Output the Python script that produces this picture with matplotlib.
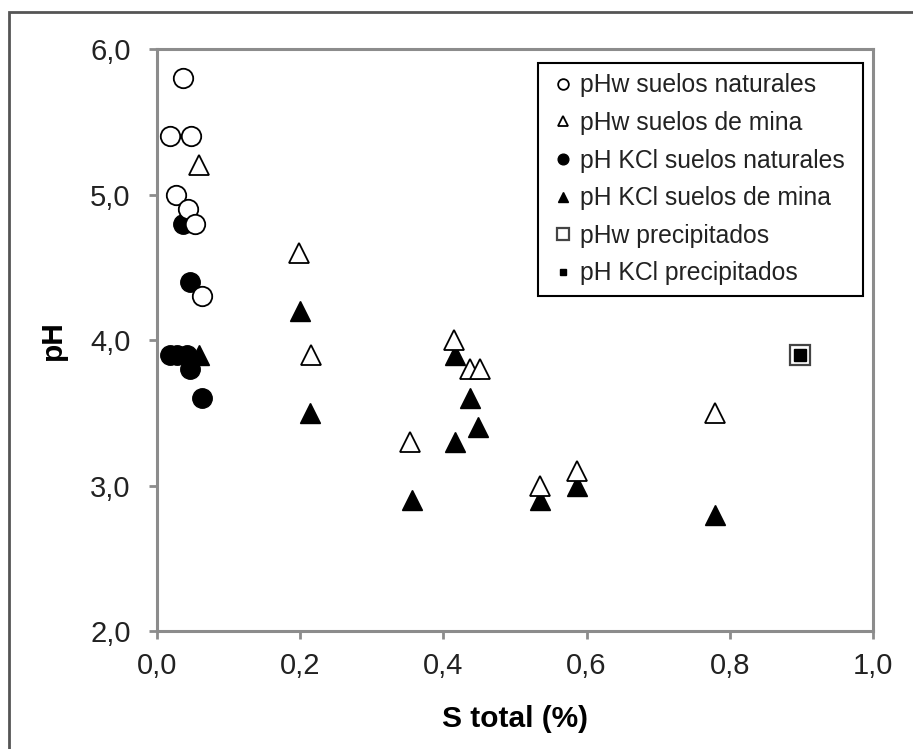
import matplotlib
matplotlib.use("Agg")
from matplotlib import pyplot as plt
from matplotlib.patches import Rectangle

plt.rcParams["font.family"] = ["Liberation Sans", "DejaVu Sans"]

# pHw suelos naturales
nat_s = [0.036, 0.018, 0.047, 0.027, 0.043, 0.053, 0.063]
nat_phw = [5.8, 5.4, 5.4, 5.0, 4.9, 4.8, 4.3]
# pH KCl suelos naturales
natk_s = [0.036, 0.046, 0.018, 0.028, 0.042, 0.046, 0.063]
natk_ph = [4.8, 4.4, 3.9, 3.9, 3.9, 3.8, 3.6]
# pHw suelos de mina
mina_s = [0.059, 0.198, 0.215, 0.353, 0.415, 0.437, 0.451, 0.535, 0.587, 0.779]
mina_phw = [5.2, 4.6, 3.9, 3.3, 4.0, 3.8, 3.8, 3.0, 3.1, 3.5]
# pH KCl suelos de mina
minak_s = [0.058, 0.200, 0.214, 0.356, 0.416, 0.437, 0.448, 0.416, 0.535, 0.587, 0.779]
minak_ph = [3.9, 4.2, 3.5, 2.9, 3.9, 3.6, 3.4, 3.3, 2.9, 3.0, 2.8]
# precipitados
prec_s = [0.898]
prec_phw = [3.9]
prec_kcl = [3.9]

fig = plt.figure(figsize=(9.13, 7.49), dpi=100)
ax = fig.add_axes([0.172, 0.1575, 0.784, 0.777])

# outer frame (cut by the image edge on the right and bottom)
fig.patches.append(Rectangle((9 / 913, -0.05), 1.2, 1 - 12 / 749 + 0.05,
                             transform=fig.transFigure, fill=False,
                             edgecolor="#555555", linewidth=2))

ms = 14
ax.plot(natk_s, natk_ph, "o", ms=ms, mfc="black", mec="black", ls="none",
        label="pH KCl suelos naturales", zorder=3)
ax.plot(nat_s, nat_phw, "o", ms=ms, mfc="white", mec="black", mew=1.3, ls="none",
        label="pHw suelos naturales", zorder=3)
ax.plot(minak_s, minak_ph, "^", ms=ms, mfc="black", mec="black", ls="none",
        label="pH KCl suelos de mina", zorder=3)
ax.plot(mina_s, mina_phw, "^", ms=ms, mfc="white", mec="black", mew=1.3, ls="none",
        label="pHw suelos de mina", zorder=3)
ax.plot(prec_s, prec_phw, "s", ms=15, mfc="white", mec="#444444", mew=1.6, ls="none",
        label="pHw precipitados", zorder=3)
ax.plot(prec_s, prec_kcl, "s", ms=8, mfc="black", mec="black", ls="none",
        label="pH KCl precipitados", zorder=4)

ax.set_xlim(0, 1.0)
ax.set_ylim(2.0, 6.0)
ax.set_xticks([0, 0.2, 0.4, 0.6, 0.8, 1.0])
ax.set_yticks([2, 3, 4, 5, 6])
ax.set_xticklabels(["0,0", "0,2", "0,4", "0,6", "0,8", "1,0"])
ax.set_yticklabels(["2,0", "3,0", "4,0", "5,0", "6,0"])
ax.tick_params(axis="both", labelsize=21, color="#8c8c8c", width=2, length=6,
               labelcolor="#222222")
ax.tick_params(axis="x", pad=9)
ax.tick_params(axis="y", pad=13)
for sp in ax.spines.values():
    sp.set_color("#8c8c8c")
    sp.set_linewidth(2.2)

ax.set_xlabel("S total (%)", fontsize=21.5, fontweight="bold", labelpad=18)
ax.set_ylabel("pH", fontsize=21.5, fontweight="bold", labelpad=17)

handles, labels = ax.get_legend_handles_labels()
order = ["pHw suelos naturales", "pHw suelos de mina", "pH KCl suelos naturales",
         "pH KCl suelos de mina", "pHw precipitados", "pH KCl precipitados"]
hmap = dict(zip(labels, handles))
leg = ax.legend([hmap[k] for k in order], order, loc="upper left", mode="expand",
                bbox_to_anchor=(0.532, 0.0, 0.454, 0.976), borderaxespad=0,
                fontsize=17.8, markerscale=0.55, handlelength=1.18,
                handletextpad=0.1, labelspacing=0.55, borderpad=0.42,
                fancybox=False, edgecolor="black", framealpha=1)
leg.get_frame().set_linewidth(1.5)
for t in leg.get_texts():
    t.set_color("#222222")

fig.savefig("out.png", dpi=100)
